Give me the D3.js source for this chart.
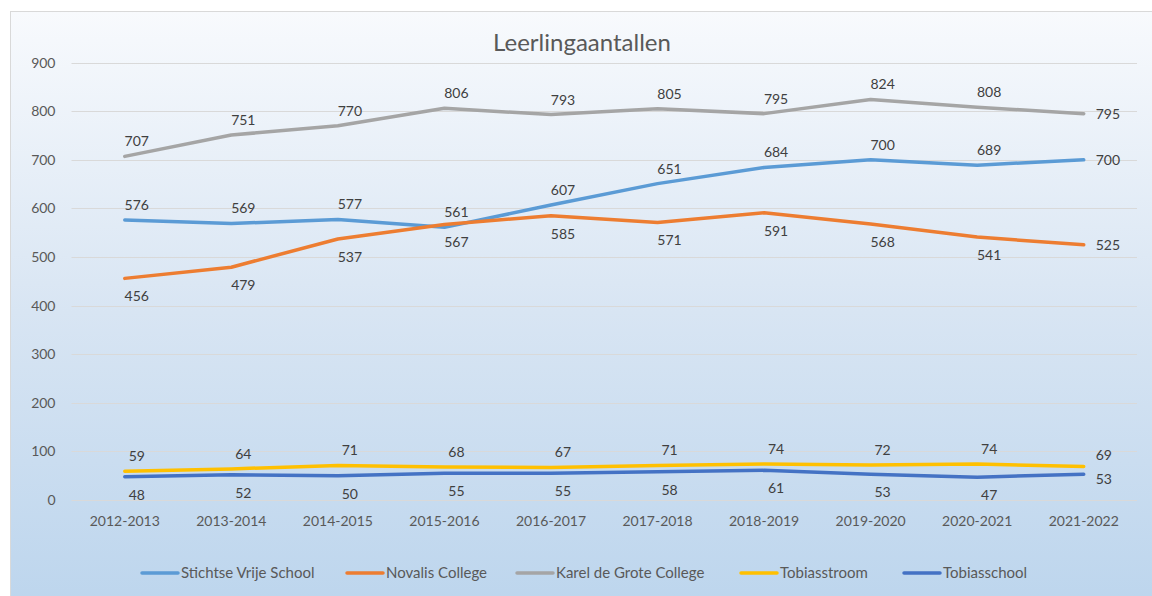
<!DOCTYPE html>
<html><head><meta charset="utf-8">
<script src="https://cdn.jsdelivr.net/npm/d3@7"></script>
<style>body{margin:0;background:#fff}svg{display:block}text{font-family:Lato,"Noto Sans",sans-serif}</style>
</head><body><svg id="c" width="1152" height="596"></svg>
<script>
const categories = ["2012-2013","2013-2014","2014-2015","2015-2016","2016-2017","2017-2018","2018-2019","2019-2020","2020-2021","2021-2022"];
const stichtse = [576,569,577,561,607,651,684,700,689,700];
const novalis = [456,479,537,567,585,571,591,568,541,525];
const karel = [707,751,770,806,793,805,795,824,808,795];
const tobiasstroom = [59,64,71,68,67,71,74,72,74,69];
const tobiasschool = [48,52,50,55,55,58,61,53,47,53];
const yTicks = [0,100,200,300,400,500,600,700,800,900];
const seriesNames = ["Stichtse Vrije School","Novalis College","Karel de Grote College","Tobiasstroom","Tobiasschool"];
const seriesColors = ["#5B9BD5","#ED7D31","#A5A5A5","#FFC000","#4472C4"];
const labelSide = ["above","below","above","above","below"];
const lastLabelNudge = [0,0,0,-11,5];

const svg = d3.select("#c");
const defs = svg.append("defs");
const g = defs.append("linearGradient").attr("id","bg").attr("x1",0).attr("y1",0).attr("x2",0).attr("y2",1);
g.append("stop").attr("offset","0%").attr("stop-color","#f8fafd");
g.append("stop").attr("offset","50%").attr("stop-color","#d8e5f3");
g.append("stop").attr("offset","100%").attr("stop-color","#bcd5ed");
svg.append("rect").attr("x",10.5).attr("y",11.5).attr("width",1160).attr("height",600)
  .attr("fill","url(#bg)").attr("stroke","#d9d9d9");

const x = d3.scaleBand().domain(categories).range([71.5,1137]);
const y = d3.scaleLinear().domain([0,900]).range([500,62.6]);

svg.append("g").selectAll("line").data(yTicks).join("line")
  .attr("x1",71.5).attr("x2",1137).attr("y1",d=>Math.round(y(d))+0.5).attr("y2",d=>Math.round(y(d))+0.5)
  .attr("stroke","#d9d9d9").attr("stroke-width",1);

const yAxis = svg.append("g").attr("transform","translate(71.5,0)")
  .call(d3.axisLeft(y).tickValues(yTicks).tickSize(0).tickPadding(16));
yAxis.select(".domain").remove();
yAxis.selectAll("text").attr("font-size",14).attr("fill","#595959").attr("font-family","Lato");

const xAxis = svg.append("g").attr("transform","translate(0,500)")
  .call(d3.axisBottom(x).tickSize(0).tickPadding(16));
xAxis.select(".domain").remove();
xAxis.selectAll("text").attr("font-size",14).attr("fill","#595959").attr("font-family","Lato");

svg.append("text").attr("x",582).attr("y",51).attr("text-anchor","middle")
  .attr("font-size",24).attr("fill","#595959").text("Leerlingaantallen");

const allSeries = [stichtse,novalis,karel,tobiasstroom,tobiasschool];
const line = d3.line().x((d,i)=>x(categories[i])+x.bandwidth()/2).y(d=>y(d));
allSeries.forEach((s,k)=>{
  svg.append("path").datum(s).attr("d",line).attr("fill","none")
    .attr("stroke",seriesColors[k]).attr("stroke-width",3.5)
    .attr("stroke-linejoin","round").attr("stroke-linecap","round");
});
allSeries.forEach((s,k)=>{
  const last = s.length-1;
  svg.append("g").selectAll("text").data(s).join("text")
    .attr("font-size",14).attr("fill","#404040")
    .attr("x",(d,i)=> x(categories[i])+x.bandwidth()/2+12)
    .attr("y",(d,i)=> i===last ? y(d)+lastLabelNudge[k] : (labelSide[k]==="above" ? y(d)-15 : y(d)+18))
    .attr("dy","0.35em")
    .attr("text-anchor",(d,i)=> i===last ? "start" : "middle")
    .text(d=>d);
});

const legendX = [142,347,517,741,904];
const leg = svg.append("g");
seriesNames.forEach((n,k)=>{
  leg.append("line").attr("x1",legendX[k]).attr("x2",legendX[k]+36).attr("y1",573).attr("y2",573)
    .attr("stroke",seriesColors[k]).attr("stroke-width",3.5).attr("stroke-linecap","round");
  leg.append("text").attr("x",legendX[k]+39).attr("y",573).attr("dy","0.35em")
    .attr("font-size",15).attr("fill","#595959").text(n);
});
</script></body></html>
